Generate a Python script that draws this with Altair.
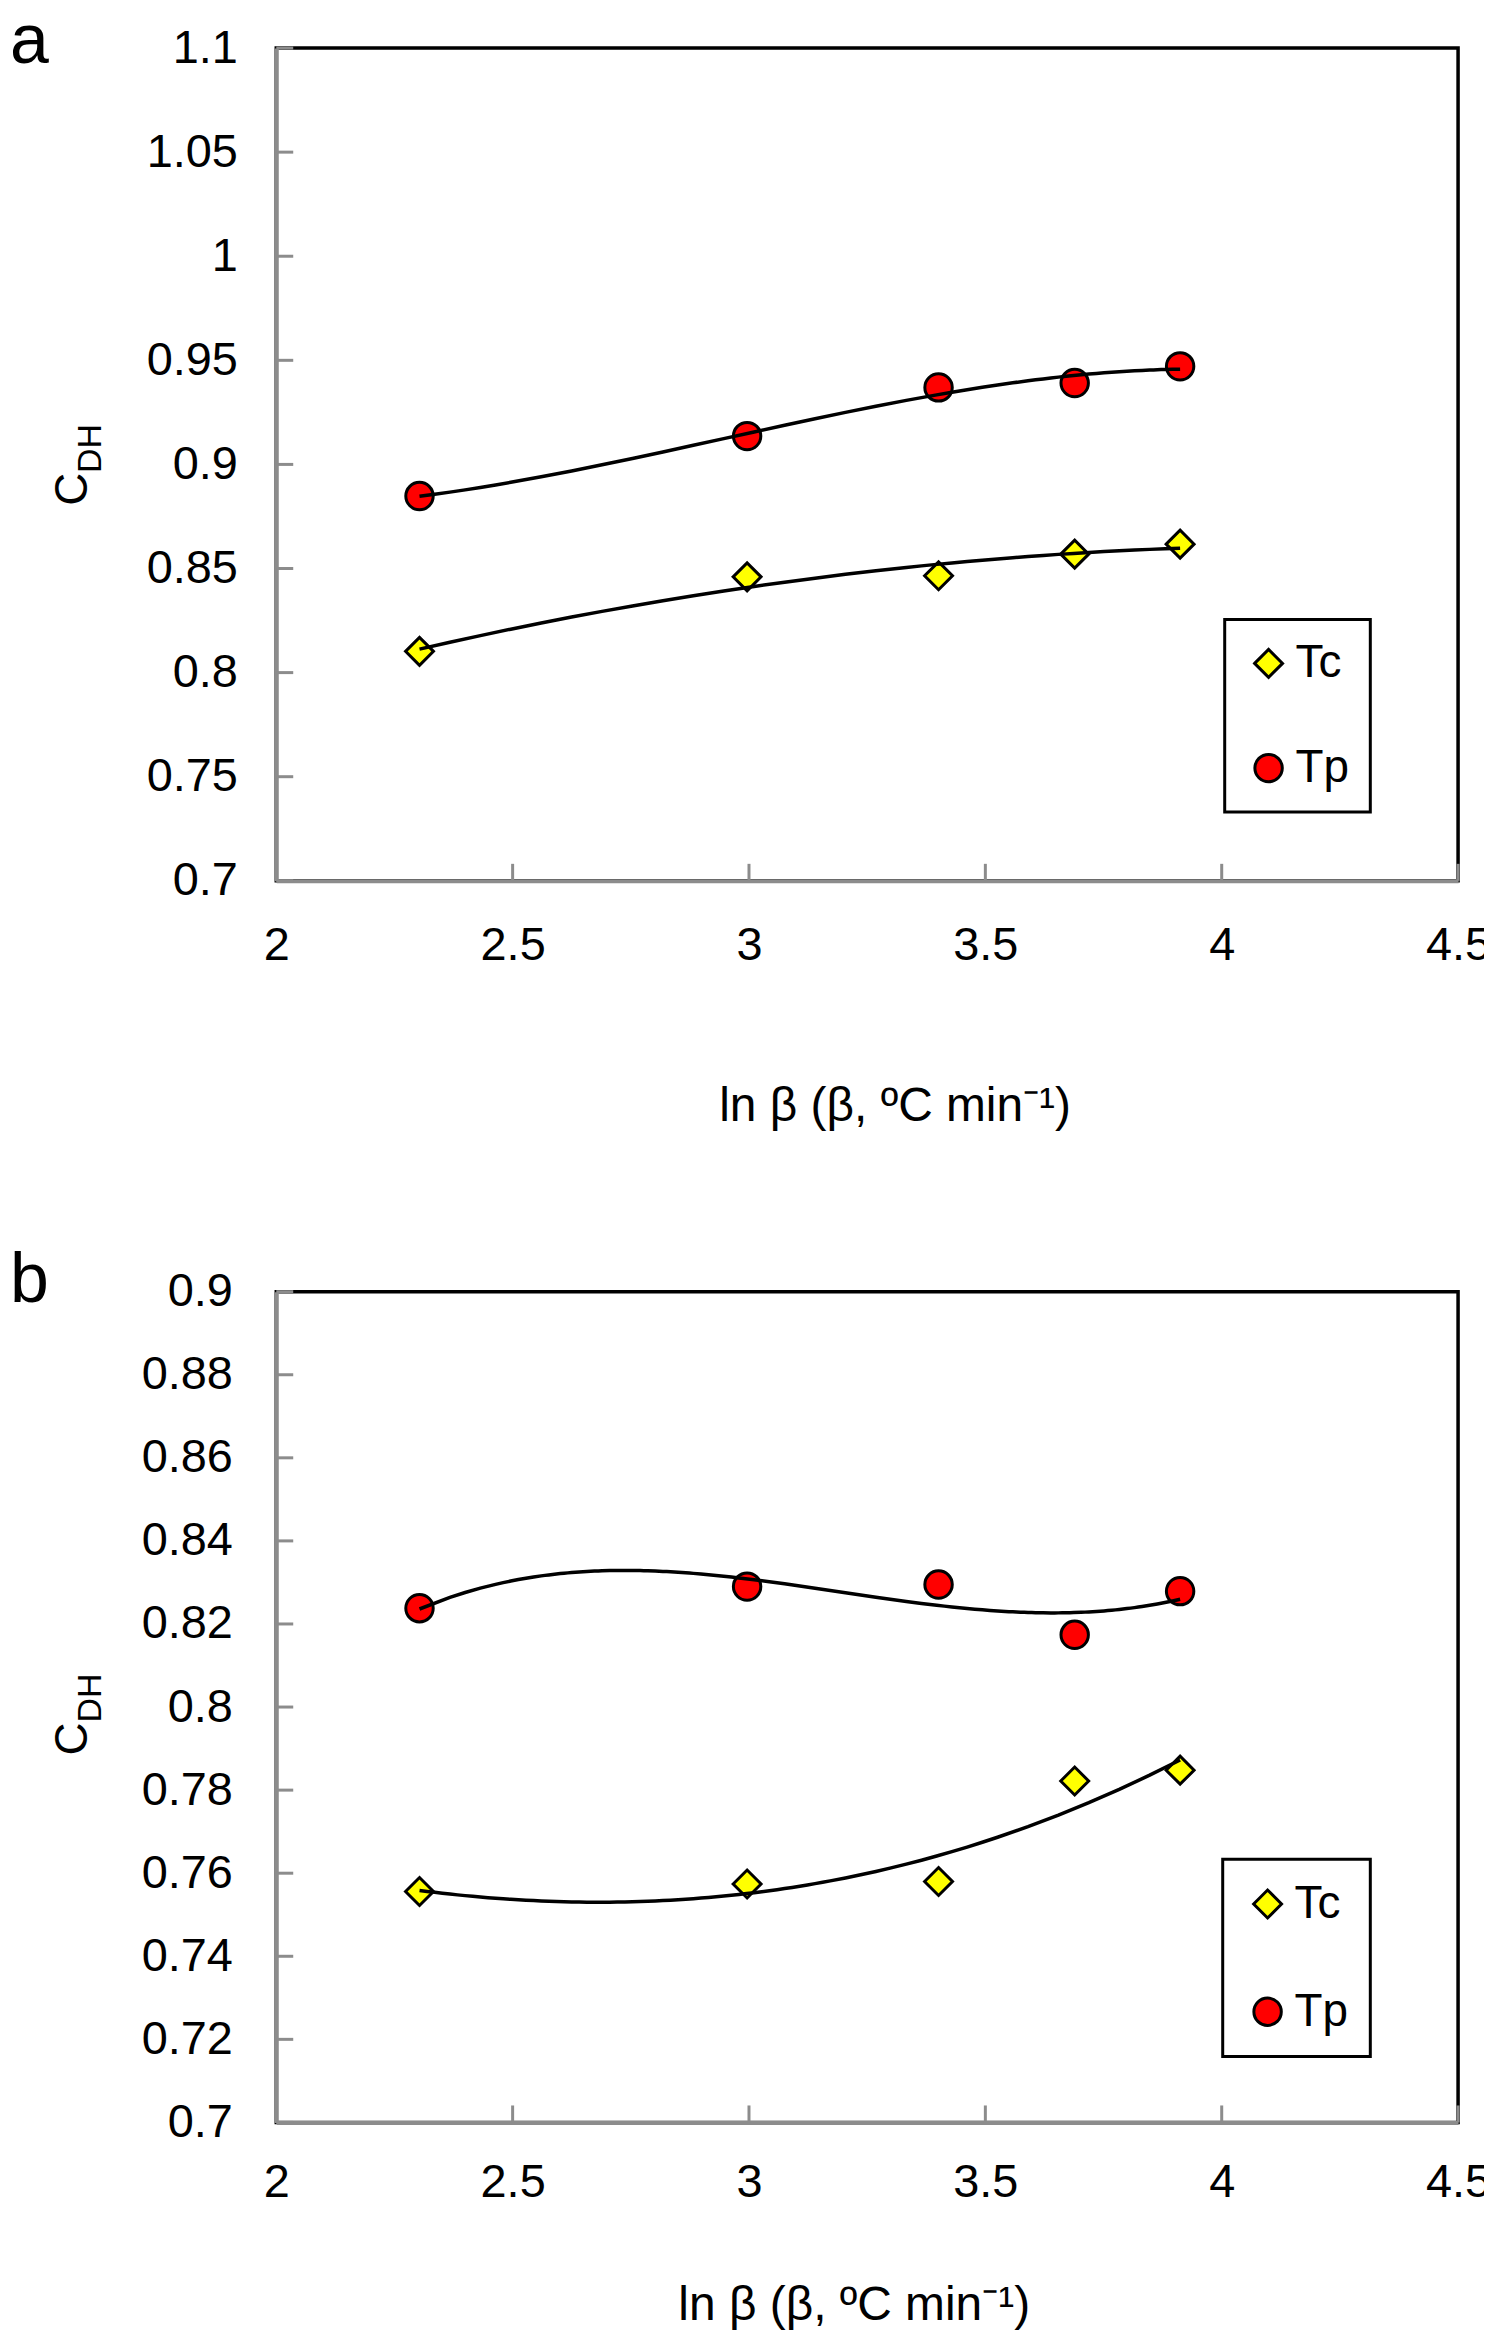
import altair as alt
import pandas as pd

ln_beta = [2.303, 2.996, 3.401, 3.689, 3.912]
series = ['Tc', 'Tp']

cdh_a_tc = [0.8102, 0.8460, 0.8465, 0.8569, 0.8617]
cdh_a_tp = [0.8848, 0.9136, 0.9370, 0.9391, 0.9471]
cdh_b_tc = [0.7556, 0.7574, 0.7580, 0.7822, 0.7848]
cdh_b_tp = [0.8238, 0.8290, 0.8295, 0.8174, 0.8279]

x_ticks = [2, 2.5, 3, 3.5, 4, 4.5]
y_ticks_a = [0.7, 0.75, 0.8, 0.85, 0.9, 0.95, 1, 1.05, 1.1]
y_ticks_b = [0.7, 0.72, 0.74, 0.76, 0.78, 0.8, 0.82, 0.84, 0.86, 0.88, 0.9]

x_title = 'ln β (β, ºC min⁻¹)'
FONT = 'Liberation Sans'
GREY = '#8c8c8c'
W = 1185
TICK = 17


def label(text, size, x, y, angle=0):
    return (
        alt.Chart(pd.DataFrame({'t': [text]}))
        .mark_text(font=FONT, fontSize=size, align='left', baseline='alphabetic', angle=angle, color='black')
        .encode(text='t:N', x=alt.value(x), y=alt.value(y))
    )


def panel(tc, tp, y_ticks, letter, h, o):
    df = pd.DataFrame({
        'ln_beta': ln_beta + ln_beta,
        'cdh': tc + tp,
        'series': [series[0]] * len(tc) + [series[1]] * len(tp),
    })
    x_scale = alt.Scale(domain=[x_ticks[0], x_ticks[-1]], nice=False, zero=False)
    y_scale = alt.Scale(domain=[y_ticks[0], y_ticks[-1]], nice=False, zero=False)
    x_axis = alt.Axis(values=x_ticks, format='~g', labelPadding=o['xpad'], title=x_title,
                      titleX=o['title_x'], titleY=o['title_y'], titleAlign='center',
                      titleBaseline='alphabetic')
    y_axis = alt.Axis(values=y_ticks, format='~g', labelPadding=o['ypad'], title=None)

    base = alt.Chart(df).encode(
        alt.X('ln_beta:Q', scale=x_scale, axis=x_axis),
        alt.Y('cdh:Q', scale=y_scale, axis=y_axis),
    )
    legend = alt.Legend(title=None, orient='none', legendX=o['leg_x'], legendY=o['leg_y'],
                        padding=o['leg_pad'], rowPadding=o['leg_row'],
                        symbolStrokeColor='black', symbolStrokeWidth=3)
    points = base.mark_point(filled=True, opacity=1, strokeWidth=3).encode(
        alt.Fill('series:N', scale=alt.Scale(domain=series, range=['#ffff00', '#ff0000']), legend=legend),
        alt.Stroke('series:N', scale=alt.Scale(domain=series, range=['black', 'black']), legend=legend),
        alt.Shape('series:N', scale=alt.Scale(domain=series, range=['diamond', 'circle']), legend=legend),
        alt.Size('series:N', scale=alt.Scale(domain=series, range=[784, 756]), legend=legend),
    )
    # polynomial trend lines, one per series, as in the spreadsheet original
    fits = [
        base.transform_filter(alt.datum.series == s)
        .transform_regression('ln_beta', 'cdh', method='poly', order=k)
        .mark_line(color='black', strokeWidth=3.5)
        for s, k in zip(series, o['orders'])
    ]
    # inward ticks
    x_tick_marks = alt.Chart(pd.DataFrame({'v': x_ticks})).mark_rule(color=GREY, strokeWidth=3).encode(
        alt.X('v:Q', scale=x_scale, axis=x_axis), y=alt.value(h), y2=alt.value(h - TICK))
    y_tick_marks = alt.Chart(pd.DataFrame({'v': y_ticks})).mark_rule(color=GREY, strokeWidth=3).encode(
        alt.Y('v:Q', scale=y_scale, axis=y_axis), x=alt.value(0), x2=alt.value(TICK))

    texts = [
        label(letter, 70, -267, o['letter_y']),
        label('C', 46, -190, o['c_y'], angle=270),
        label('DH', 34, -176, o['c_y'] - 33, angle=270),
    ]
    return alt.layer(y_tick_marks, x_tick_marks, points, *fits, *texts).properties(width=W, height=h)


panel_a = panel(cdh_a_tc, cdh_a_tp, y_ticks_a, 'a', 835, dict(
    xpad=42, ypad=39, title_x=620, title_y=240, leg_x=951, leg_y=573, leg_pad=21, leg_row=59,
    letter_y=15, c_y=459, orders=[2, 3]))
panel_b = panel(cdh_b_tc, cdh_b_tp, y_ticks_b, 'b', 833, dict(
    xpad=37, ypad=44, title_x=579, title_y=198, leg_x=949, leg_y=569, leg_pad=22, leg_row=62,
    letter_y=10, c_y=465, orders=[3, 3]))

chart = (
    alt.vconcat(panel_a, panel_b, spacing=112)
    .resolve_scale(x='independent', y='independent', fill='independent', stroke='independent',
                   shape='independent', size='independent')
    .resolve_legend(fill='independent', stroke='independent', shape='independent', size='independent')
    .properties(padding={'top': -6, 'left': 0, 'right': -9, 'bottom': 0})
    .configure_view(stroke='black', strokeWidth=3.5)
    .configure_axis(domainColor=GREY, domainWidth=4, ticks=False, tickSize=0, grid=False,
                    labelFont=FONT, labelFontSize=47, labelColor='black', labelFlush=False, labelOverlap=False,
                    titleFont=FONT, titleFontSize=48, titleFontWeight='normal', titleColor='black')
    .configure_legend(labelFont=FONT, labelFontSize=46, labelColor='black', labelOffset=4,
                      strokeColor='black', strokeWidth=3, symbolOpacity=1)
)

chart.save('out.html', embed_options={'renderer': 'svg', 'actions': False})
